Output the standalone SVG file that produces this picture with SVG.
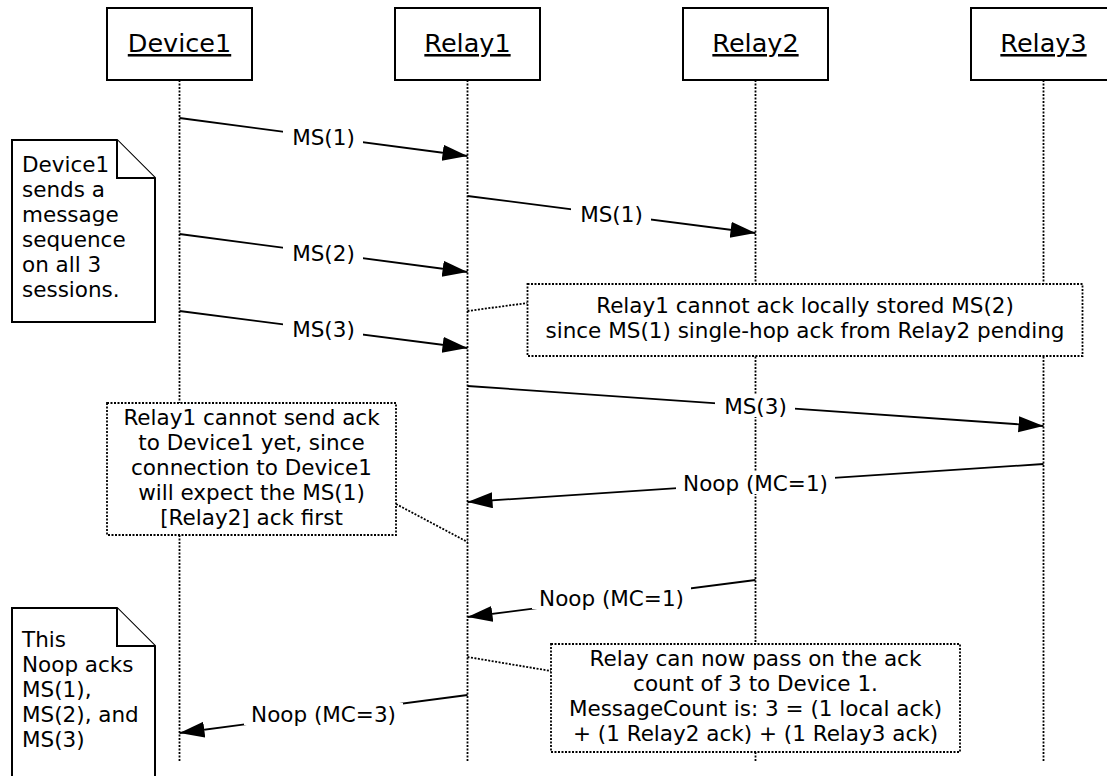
<svg xmlns="http://www.w3.org/2000/svg" width="1107" height="776" viewBox="0 0 1107 776">
<style>
text{font-family:"DejaVu Sans",Verdana,sans-serif;fill:#000}
.hdr{font-size:25.5px;text-anchor:middle;text-decoration:underline}
.lbl{font-size:21.5px;text-anchor:middle}
.nt{font-size:21.5px}
.ntc{font-size:21.5px;text-anchor:middle}
.box{fill:#fff;stroke:#000;stroke-width:2}
.life{stroke:#000;stroke-width:1.8;stroke-dasharray:2 1.5;fill:none}
.dnote{fill:#fff;stroke:#000;stroke-width:1.8;stroke-dasharray:2 1.5}
.dlink{stroke:#000;stroke-width:1.8;stroke-dasharray:2 1.5;fill:none}
.msg{stroke:#000;stroke-width:1.8;fill:none;marker-end:url(#ah)}
.gap{fill:#fff}
.fold{fill:#fff;stroke:#000;stroke-width:2;stroke-linejoin:miter}
</style>
<defs>
<marker id="ah" markerUnits="userSpaceOnUse" markerWidth="27" markerHeight="18" refX="25" refY="8" orient="auto">
<path d="M0,0 L25,8 L0,16 Z" fill="#000"/>
</marker>
</defs>
<g id="lifelines">
<line class="life" x1="179.5" y1="80" x2="179.5" y2="762"/>
<line class="life" x1="467.5" y1="80" x2="467.5" y2="762"/>
<line class="life" x1="755.5" y1="80" x2="755.5" y2="762"/>
<line class="life" x1="1043.5" y1="80" x2="1043.5" y2="762"/>
</g>
<g id="Device1"><rect class="box" x="107" y="8" width="145" height="72"/><text class="hdr" x="179.5" y="52">Device1</text></g>
<g id="Relay1"><rect class="box" x="395" y="8" width="145" height="72"/><text class="hdr" x="467.5" y="52">Relay1</text></g>
<g id="Relay2"><rect class="box" x="683" y="8" width="145" height="72"/><text class="hdr" x="755.5" y="52">Relay2</text></g>
<g id="Relay3"><rect class="box" x="971" y="8" width="145" height="72"/><text class="hdr" x="1043.5" y="52">Relay3</text></g>
<g id="connectors">
<line class="msg" x1="179.5" y1="118" x2="467.5" y2="156"/>
<rect class="gap" x="283" y="126" width="80" height="22"/>
<text class="lbl" x="323.5" y="144.5">MS(1)</text>
<line class="msg" x1="467.5" y1="196" x2="755.5" y2="233"/>
<rect class="gap" x="571" y="203" width="80" height="22"/>
<text class="lbl" x="611.5" y="222">MS(1)</text>
<line class="msg" x1="179.5" y1="234" x2="467.5" y2="272"/>
<rect class="gap" x="283" y="242" width="80" height="22"/>
<text class="lbl" x="323.5" y="260.5">MS(2)</text>
<line class="msg" x1="179.5" y1="311" x2="467.5" y2="348"/>
<rect class="gap" x="283" y="318" width="80" height="22"/>
<text class="lbl" x="323.5" y="337">MS(3)</text>
<line class="msg" x1="467.5" y1="386" x2="1043.5" y2="426"/>
<rect class="gap" x="715" y="395" width="80" height="22"/>
<text class="lbl" x="755.5" y="413.5">MS(3)</text>
<line class="msg" x1="1043.5" y1="464" x2="467.5" y2="502"/>
<rect class="gap" x="676" y="472" width="159" height="22"/>
<text class="lbl" x="755.5" y="490.5">Noop (MC=1)</text>
<line class="msg" x1="755.5" y1="580" x2="467.5" y2="617"/>
<rect class="gap" x="532" y="587" width="159" height="22"/>
<text class="lbl" x="611.5" y="606">Noop (MC=1)</text>
<line class="msg" x1="467.5" y1="695" x2="179.5" y2="733"/>
<rect class="gap" x="244" y="703" width="159" height="22"/>
<text class="lbl" x="323.5" y="721.5">Noop (MC=3)</text>
<line class="dlink" x1="467.5" y1="311" x2="527.5" y2="303"/>
<line class="dlink" x1="396" y1="504" x2="467.5" y2="542"/>
<line class="dlink" x1="467.5" y1="657" x2="551" y2="671"/>
</g>
<g id="note-device1">
<path class="fold" d="M12,140 H117 L155,178 V322 H12 Z"/>
<path class="fold" d="M117,140 V178 H155"/>
<text class="nt" x="22" y="172">Device1</text>
<text class="nt" x="22" y="197">sends a</text>
<text class="nt" x="22" y="222">message</text>
<text class="nt" x="22" y="247">sequence</text>
<text class="nt" x="22" y="272">on all 3</text>
<text class="nt" x="22" y="297">sessions.</text>
</g>
<g id="note-relay1-ms2">
<rect class="dnote" x="527.5" y="284" width="555" height="72"/>
<text class="ntc" x="805" y="313">Relay1 cannot ack locally stored MS(2)</text>
<text class="ntc" x="805" y="338">since MS(1) single-hop ack from Relay2 pending</text>
</g>
<g id="note-relay1-send">
<rect class="dnote" x="107" y="403" width="289" height="132"/>
<text class="ntc" x="251.5" y="425">Relay1 cannot send ack</text>
<text class="ntc" x="251.5" y="450">to Device1 yet, since</text>
<text class="ntc" x="251.5" y="475">connection to Device1</text>
<text class="ntc" x="251.5" y="500">will expect the MS(1)</text>
<text class="ntc" x="251.5" y="525">[Relay2] ack first</text>
</g>
<g id="note-relay-pass">
<rect class="dnote" x="551" y="644" width="409" height="108"/>
<text class="ntc" x="755.5" y="666">Relay can now pass on the ack</text>
<text class="ntc" x="755.5" y="691">count of 3 to Device 1.</text>
<text class="ntc" x="755.5" y="716">MessageCount is: 3 = (1 local ack)</text>
<text class="ntc" x="755.5" y="741">+ (1 Relay2 ack) + (1 Relay3 ack)</text>
</g>
<g id="note-noop">
<path class="fold" d="M12,608 H117 L155,646 V790 H12 Z"/>
<path class="fold" d="M117,608 V646 H155"/>
<text class="nt" x="22" y="647">This</text>
<text class="nt" x="22" y="672">Noop acks</text>
<text class="nt" x="22" y="697">MS(1),</text>
<text class="nt" x="22" y="722">MS(2), and</text>
<text class="nt" x="22" y="747">MS(3)</text>
</g>
</svg>
